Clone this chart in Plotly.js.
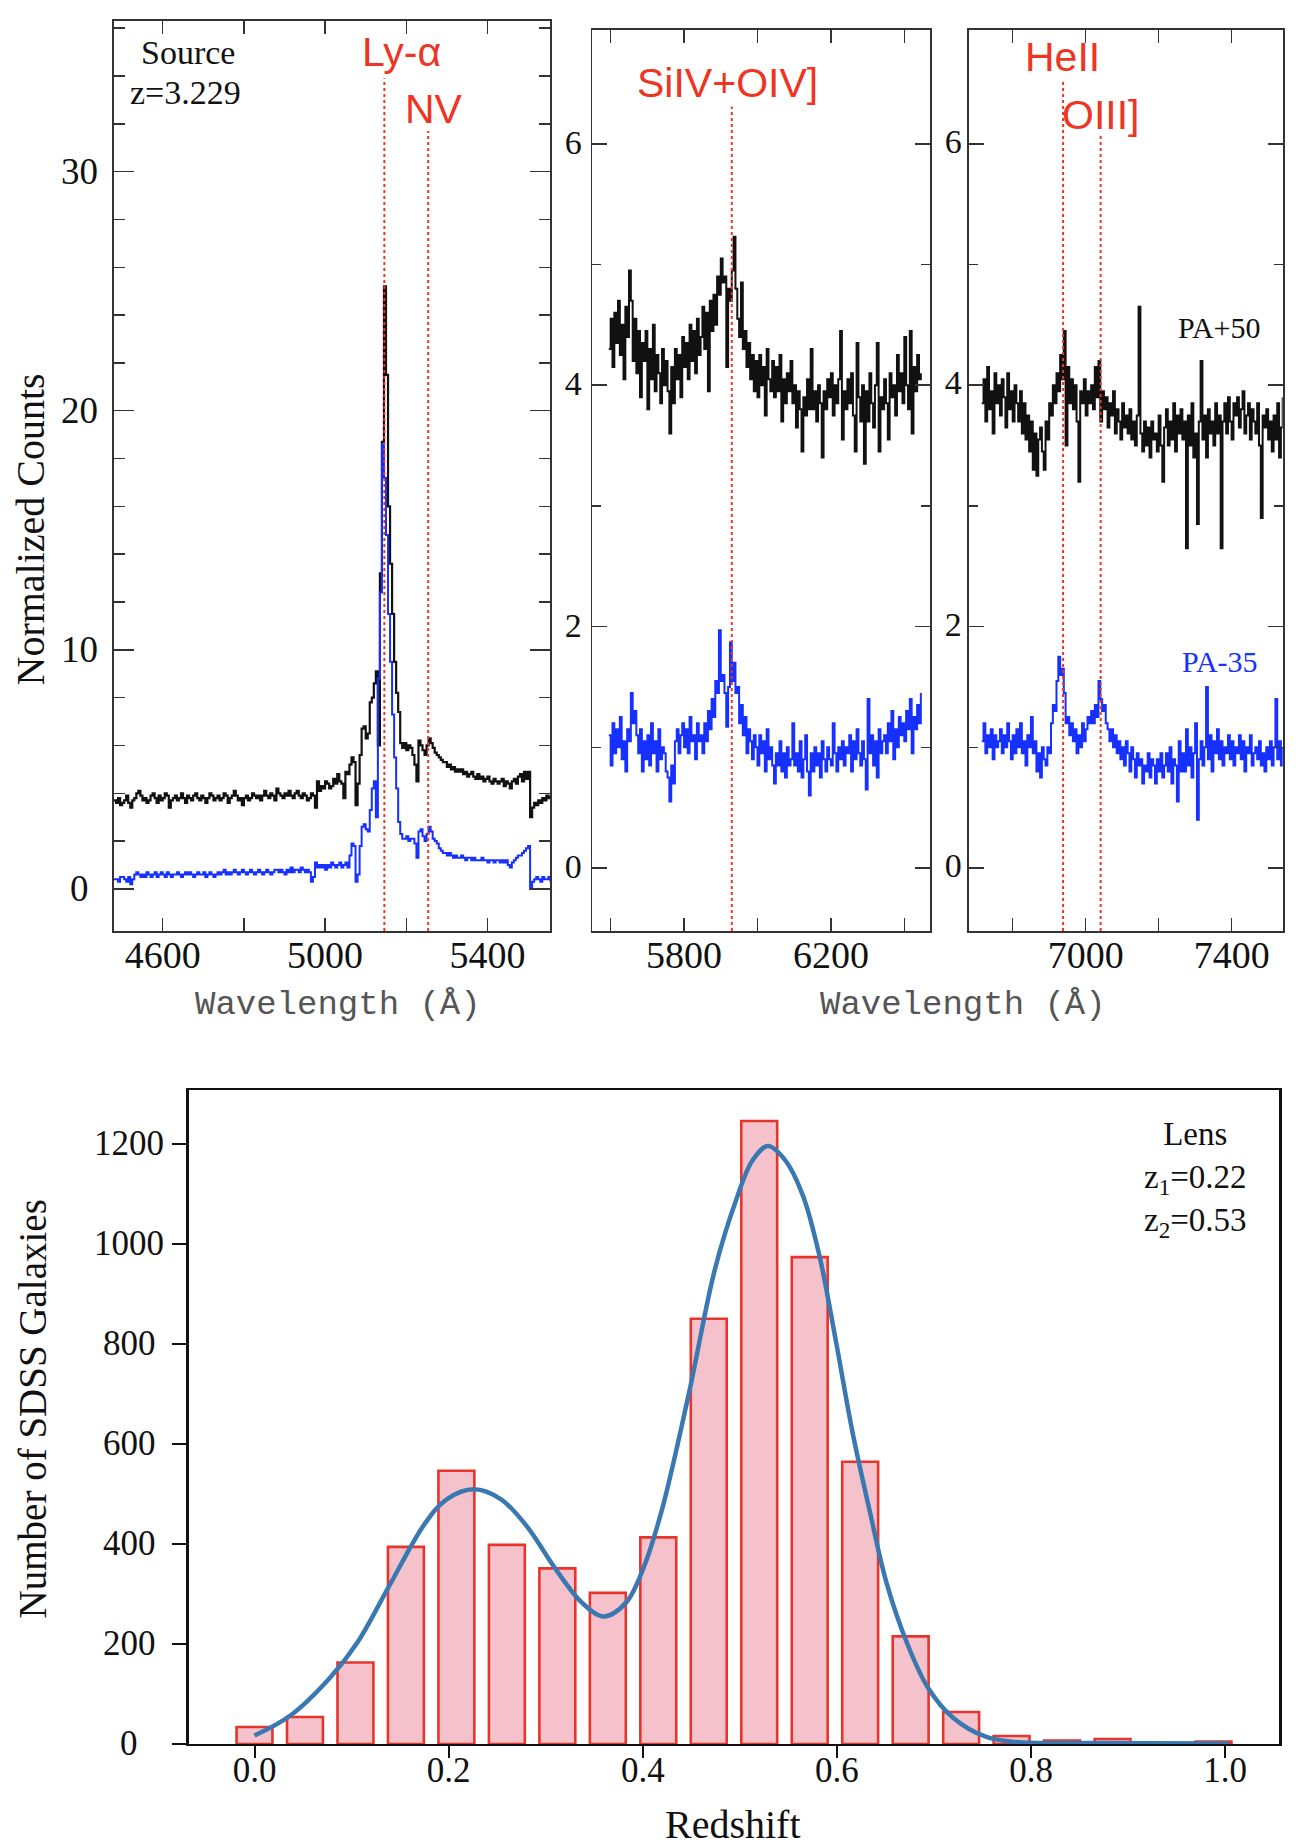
<!DOCTYPE html>
<html>
<head>
<meta charset="utf-8">
<script src="https://cdn.plot.ly/plotly-3.0.1.min.js"></script>
<style>
html,body{margin:0;padding:0;background:#fff;}
#chart{width:1316px;height:1848px;}
</style>
</head>
<body>
<div id="chart"></div>
<script>
// ---------- Panel 1: Ly-alpha / NV region (sampling start, step in Angstrom) ----------
const lyaStart = 4480, lyaStep = 5;
const lyaPA50 = [
3.7,3.6,3.8,3.5,3.6,3.7,3.9,3.6,3.4,3.7,
3.8,4.0,4.1,3.9,3.7,3.8,3.6,3.7,3.9,4.0,
3.8,3.6,3.9,3.7,3.8,4.0,3.9,3.4,3.7,3.8,
3.9,3.7,3.8,4.0,3.8,3.6,3.9,3.8,3.7,3.9,
4.0,3.8,3.7,3.9,3.8,3.6,3.8,4.0,3.9,3.7,
3.8,3.9,3.7,3.8,4.0,3.9,3.6,3.8,3.9,4.1,
3.9,3.7,3.8,3.5,3.8,3.9,3.7,3.8,4.0,3.9,
3.8,3.9,3.7,3.9,4.1,3.9,3.8,4.0,3.9,3.7,
4.2,4.0,3.9,3.8,4.0,3.9,4.1,3.9,3.8,4.0,
4.1,3.9,3.8,4.0,3.9,3.7,3.8,4.0,3.9,3.4,
4.5,4.1,4.3,4.2,4.5,4.4,4.2,4.3,4.6,4.4,
4.8,4.5,4.4,3.8,4.9,4.8,5.2,5.5,5.3,3.5,
4.4,5.6,6.7,6.8,6.3,6.5,7.8,8.0,8.6,9.1,
6.0,13.2,18.7,25.2,21.5,16.0,13.6,11.5,9.5,8.2,
7.4,6.1,5.9,6.1,5.8,6.0,5.9,5.6,5.2,4.5,
6.2,6.0,5.8,5.6,6.0,6.3,6.1,5.9,5.7,5.6,
5.5,5.4,5.3,5.3,5.1,5.2,5.0,5.1,4.9,5.0,
4.9,5.0,4.8,4.9,4.7,4.8,4.9,4.7,4.6,4.8,
4.6,4.7,4.5,4.6,4.7,4.5,4.4,4.6,4.5,4.4,
4.5,4.6,4.3,4.5,4.4,4.2,4.5,4.6,4.4,4.7,
4.8,4.5,4.9,4.6,4.9,3.0,3.4,3.6,3.5,3.7,
3.6,3.8,3.7,3.9,3.8,3.9
];
const lyaPA35 = [
0.4,0.4,0.3,0.5,0.5,0.4,0.3,0.5,0.2,0.4,
0.6,0.7,0.6,0.5,0.6,0.5,0.7,0.6,0.5,0.6,
0.7,0.5,0.6,0.7,0.6,0.5,0.7,0.6,0.5,0.6,
0.6,0.7,0.6,0.5,0.6,0.7,0.6,0.7,0.6,0.5,
0.6,0.7,0.6,0.6,0.7,0.5,0.6,0.7,0.6,0.5,
0.6,0.7,0.6,0.7,0.8,0.6,0.7,0.6,0.7,0.8,
0.7,0.6,0.7,0.8,0.7,0.6,0.7,0.8,0.7,0.6,
0.7,0.8,0.7,0.6,0.7,0.8,0.7,0.6,0.7,0.8,
0.8,0.7,0.8,0.7,0.6,0.8,0.7,0.9,0.7,0.8,
0.8,0.7,0.9,0.8,0.7,0.8,0.7,0.3,0.5,1.1,
0.9,1.0,0.9,1.0,0.8,1.0,0.9,1.1,1.0,0.9,
1.0,1.1,0.9,1.0,1.1,0.9,1.4,1.9,1.8,0.3,
0.6,1.8,2.6,2.7,2.5,2.4,3.3,4.2,4.5,3.0,
8.8,12.4,18.6,17.2,14.8,11.5,9.5,7.3,5.5,4.2,
2.8,2.3,2.1,2.1,2.2,2.0,2.1,2.1,1.9,1.3,
2.4,2.5,2.2,2.0,2.3,2.6,2.4,2.1,2.0,1.9,
1.7,1.6,1.5,1.5,1.4,1.5,1.4,1.3,1.4,1.3,
1.3,1.4,1.3,1.2,1.3,1.3,1.2,1.3,1.2,1.2,
1.2,1.3,1.2,1.2,1.1,1.2,1.2,1.1,1.2,1.2,
1.1,1.2,1.1,1.2,1.0,0.9,1.1,1.2,1.3,1.4,
1.4,1.5,1.6,1.7,1.8,0.0,0.3,0.4,0.5,0.4,
0.3,0.5,0.4,0.4,0.5,0.3
];

// ---------- Panel 2: SiIV+OIV] region ----------
const siStart = 5595, siStep = 5;
const siPA50 = [
4.30,4.55,4.15,4.60,4.35,4.70,4.25,4.50,4.05,4.65,
4.40,4.95,4.70,4.20,4.55,4.10,4.45,3.90,4.35,4.20,
4.45,3.80,4.30,4.05,4.50,3.95,4.25,4.10,3.85,4.30,
4.00,4.20,3.95,3.60,4.15,3.85,4.30,4.05,4.25,3.90,
4.40,4.15,4.35,4.05,4.50,4.20,4.45,4.10,4.55,4.25,
4.40,4.65,4.30,4.60,3.95,4.70,4.45,4.75,4.50,4.90,
4.75,5.05,4.85,4.90,4.15,4.80,4.70,4.95,5.23,4.80,
4.55,4.40,4.85,4.30,4.45,4.15,4.35,4.05,4.25,3.95,
4.20,3.90,4.25,4.00,4.15,3.75,4.30,4.05,3.95,4.20,
3.90,4.15,3.95,4.25,3.70,4.05,3.85,4.10,3.95,4.20,
3.85,4.00,3.65,3.95,3.80,3.45,3.90,3.75,4.05,3.80,
4.30,3.80,3.95,3.70,4.00,3.85,3.40,3.95,3.80,4.05,
3.90,4.10,3.75,4.00,3.85,4.05,4.45,3.55,3.95,3.80,
4.05,3.85,4.10,3.75,3.45,4.35,3.90,3.70,4.00,3.35,
3.95,3.70,4.10,3.85,3.65,4.00,4.35,3.45,3.90,3.80,
4.05,3.85,3.55,4.10,3.90,4.00,3.75,4.25,3.95,4.10,
3.85,4.40,4.00,3.80,4.45,3.60,4.15,3.95,4.25,4.05,
4.10
];
const siPA35 = [
1.10,0.85,1.20,0.95,1.15,1.00,1.25,0.90,1.05,0.80,
1.15,1.05,1.45,1.20,1.30,1.10,0.95,1.15,0.80,1.05,
0.90,1.10,0.85,1.20,0.95,1.05,0.80,1.15,0.90,1.00,
0.95,0.80,0.75,0.55,0.85,0.70,1.05,1.15,0.95,1.10,
1.20,1.00,1.15,0.95,1.25,1.05,1.10,0.90,1.20,1.05,
1.10,0.95,1.20,1.05,1.30,1.15,1.40,1.25,1.55,1.45,
1.97,1.55,1.60,1.45,1.17,1.50,1.87,1.55,1.70,1.45,
1.50,1.20,1.35,1.10,1.25,0.95,1.15,1.05,0.90,1.10,
1.00,0.85,1.10,0.95,1.05,0.80,1.15,0.90,1.00,0.85,
0.70,0.95,0.85,1.05,0.80,0.95,0.75,1.00,0.85,0.90,
1.20,0.85,0.95,0.80,1.05,0.75,0.90,1.10,0.80,0.60,
0.95,0.80,1.00,0.85,0.95,0.75,1.05,0.90,0.80,1.00,
0.90,0.85,1.20,0.95,0.80,1.00,0.90,1.05,0.85,1.00,
0.95,1.10,0.80,1.05,0.90,1.15,0.95,0.85,1.05,0.90,
0.65,1.40,0.95,1.10,0.85,1.05,0.75,1.15,0.95,1.05,
1.10,0.95,1.20,1.05,1.30,0.90,1.15,1.00,1.25,1.10,
1.20,1.05,1.30,1.15,1.40,0.95,1.25,1.15,1.35,1.20,
1.45
];

// ---------- Panel 3: HeII / OIII] region ----------
const heStart = 6715, heStep = 5;
const hePA50 = [
3.85,4.05,3.70,4.15,3.80,3.95,3.60,4.10,3.85,4.00,
3.75,4.05,3.90,3.65,4.10,3.80,3.95,3.70,4.00,3.85,
3.70,3.95,3.60,3.85,3.55,3.75,3.45,3.70,3.30,3.60,
3.25,3.55,3.65,3.45,3.30,3.70,3.55,3.85,3.75,4.00,
3.85,4.10,3.95,4.25,4.05,4.45,3.50,4.15,3.85,4.05,
3.80,4.00,3.70,3.20,3.95,3.85,4.05,3.75,3.95,3.85,
4.00,3.80,4.15,3.90,4.20,3.70,3.95,3.80,3.90,3.65,
3.85,3.75,3.95,3.60,3.80,3.70,3.55,3.85,3.65,3.75,
3.60,3.80,3.55,3.70,3.50,3.75,4.65,3.60,3.45,3.70,
3.50,3.65,3.40,3.70,3.55,3.60,3.45,3.75,3.50,3.20,
3.65,3.80,3.50,3.70,3.55,3.85,3.45,3.75,3.60,3.80,
3.55,3.70,2.65,3.75,3.50,3.85,3.40,3.60,2.85,3.70,
4.20,3.55,3.75,3.40,3.80,3.60,3.70,3.50,3.85,3.60,
3.75,2.65,3.70,3.85,3.60,3.90,3.70,3.55,3.85,3.75,
3.90,3.65,3.80,3.95,3.60,3.75,3.85,3.55,3.80,3.70,
3.60,3.85,3.50,2.90,3.75,3.65,3.80,3.55,3.70,3.45,
3.75,3.55,3.85,3.40,3.65,3.90
];
const hePA35 = [
1.05,1.20,0.95,1.10,1.00,1.15,0.90,1.10,1.00,1.05,
1.15,0.95,1.10,1.00,1.20,1.05,0.90,1.10,0.95,1.15,
1.00,1.20,0.95,1.05,0.85,1.10,1.00,1.25,0.95,1.05,
0.80,0.95,0.75,1.00,0.90,0.85,1.00,0.95,1.20,1.35,
1.30,1.55,1.75,1.60,1.65,1.45,1.20,1.25,1.10,1.20,
1.05,1.15,0.95,1.10,1.00,1.20,1.05,1.15,1.25,1.20,
1.30,1.20,1.35,1.25,1.55,1.40,1.30,1.35,1.20,1.15,
1.05,1.15,1.00,1.10,0.95,1.05,0.90,1.00,0.85,1.05,
0.95,0.80,1.00,0.90,0.75,0.95,0.85,0.90,0.70,0.85,
0.80,0.95,0.75,0.90,0.85,0.70,0.90,0.80,0.95,0.75,
0.85,0.95,0.80,1.00,0.70,0.90,0.85,0.55,1.05,0.80,
0.95,0.80,1.15,0.85,1.00,0.75,0.95,1.20,0.40,0.90,
1.05,0.85,1.00,1.50,0.90,1.10,0.80,1.05,0.95,1.15,
0.90,1.05,0.85,1.00,0.95,1.10,0.90,1.05,0.85,1.00,
0.95,1.10,0.90,1.05,0.80,1.00,0.95,1.10,0.85,0.95,
1.00,0.90,1.05,0.85,0.95,0.80,1.00,0.90,1.05,0.85,
1.00,1.40,0.90,1.05,0.85,1.00
];

// ---------- Emission lines ----------
const lineNames = ['Ly-α', 'NV', 'SiIV+OIV]', 'HeII', 'OIII]'];
const lineWaves = [5146, 5254, 5930, 6938, 7041];
const lineTops  = [33.9, 31.7, 6.31, 6.53, 6.09];

// ---------- Lens redshift histogram ----------
const zBins   = [0.000,0.052,0.104,0.156,0.208,0.260,0.312,0.364,0.416,0.468,0.520,0.572,0.624,0.676,0.728,0.780,0.832,0.884,0.936,0.988];
const zCounts = [34,54,163,394,546,398,351,302,413,850,1245,973,564,215,64,16,7,10,0,5];
const kdeZ = [0.000,0.037,0.078,0.106,0.138,0.175,0.198,0.226,0.254,0.281,0.309,0.337,0.360,0.383,0.401,0.420,0.448,0.474,0.496,0.513,0.529,0.547,0.565,0.582,0.599,0.616,0.634,0.651,0.672,0.694,0.720,0.754,0.784,0.849,1.004];
const kdeN = [17,57,133,203,313,439,489,509,489,434,353,283,255,283,353,470,705,946,1086,1166,1195,1166,1096,976,805,624,464,323,203,112,52,14,4,2,1];

// ---------- tick label values (labels are centred, as in the figure) ----------
const countTicks = [0, 200, 400, 600, 800, 1000, 1200];
const normTicks  = [0, 10, 20, 30];

// ---------- build ----------
function waveGrid(start, step, n){ const w=[]; for(let i=0;i<n;i++) w.push(start+i*step); return w; }
const lyaW = waveGrid(lyaStart, lyaStep, lyaPA50.length);
const siW  = waveGrid(siStart, siStep, siPA50.length);
const heW  = waveGrid(heStart, heStep, hePA50.length);

const BLACK = '#111111', BLUE = '#1530ff', RED = '#ee3524';
const SERIF = 'Liberation Serif, Times New Roman, serif';
const SANS = 'Liberation Sans, Arial, sans-serif';
const MONO = 'Liberation Mono, Courier New, monospace';

function spec(x, y, xa, ya, color, w){
  return {type:'scatter', mode:'lines', x:x, y:y, xaxis:xa, yaxis:ya,
          line:{color:color, width:w, shape:'hv'}, hoverinfo:'skip', showlegend:false};
}
const traces = [
  spec(lyaW, lyaPA50, 'x', 'y', BLACK, 2.2),
  spec(lyaW, lyaPA35, 'x', 'y', BLUE, 2.0),
  spec(siW, siPA50, 'x2', 'y2', BLACK, 2.0),
  spec(siW, siPA35, 'x2', 'y2', BLUE, 2.0),
  spec(heW, hePA50, 'x3', 'y3', BLACK, 2.0),
  spec(heW, hePA35, 'x3', 'y3', BLUE, 2.0),
  {type:'bar', x:zBins, y:zCounts, xaxis:'x4', yaxis:'y4', width:0.037,
   marker:{color:'#f5c2cc', line:{color:'#e8352b', width:2.6}}, showlegend:false, hoverinfo:'skip'},
  {type:'scatter', mode:'lines', x:kdeZ, y:kdeN, xaxis:'x4', yaxis:'y4',
   line:{color:'#3a78b2', width:4.5, shape:'spline', smoothing:1.0}, showlegend:false, hoverinfo:'skip'}
];

function specX(dom, range, tick0, anchor){
  return {domain:dom, range:range, anchor:anchor, tick0:tick0, dtick:400,
    ticks:'inside', ticklen:13, tickwidth:1.5, tickcolor:'#333',
    minor:{dtick:200, ticks:'inside', ticklen:13, tickwidth:1.5, tickcolor:'#333'},
    mirror:'allticks', showline:true, linecolor:'#333', linewidth:1.8,
    showgrid:false, zeroline:false, ticklabelstandoff:-10,
    tickfont:{family:SERIF, size:38, color:BLACK}};
}
function specY(dom, range, dtick, mdtick, anchor, fs, len, mlen, so, shift, showLab){
  return {domain:dom, range:range, anchor:anchor, tick0:0, dtick:dtick,
    ticks:'inside', ticklen:len, tickwidth:1.5, tickcolor:'#333',
    minor:{dtick:mdtick, ticks:'inside', ticklen:mlen, tickwidth:1.5, tickcolor:'#333'},
    mirror:'allticks', showline:true, linecolor:'#333', linewidth:1.8,
    showgrid:false, zeroline:false, ticklabelstandoff:so, ticklabelshift:shift,
    showticklabels:showLab, tickfont:{family:SERIF, size:fs, color:BLACK}};
}

const topDom = [0.49621, 0.98864];
const midDom = [0.49621, 0.98377];
function pann(xpx, ypx, text, font, extra){
  return Object.assign({xref:'paper', yref:'paper', x:xpx/1316, y:1-ypx/1848, text:text,
    xanchor:'center', yanchor:'middle', showarrow:false, font:font}, extra||{});
}
function dann(xr, yr, x, y, text, font){
  return {xref:xr, yref:yr, x:x, y:y, text:text, xanchor:'center', yanchor:'middle', showarrow:false, font:font};
}
const redFont = {family:SANS, size:41, color:RED};

const annotations = [
  dann('x','y',5187,35.0,lineNames[0],redFont),
  dann('x','y',5268,32.6,lineNames[1],redFont),
  dann('x2','y2',5918,6.50,lineNames[2],redFont),
  dann('x3','y3',6936,6.72,lineNames[3],redFont),
  dann('x3','y3',7040,6.24,lineNames[4],redFont),
  dann('x','y',4662,35.0,'Source',{family:SERIF, size:34, color:BLACK}),
  dann('x','y',4657,33.3,'z=3.229',{family:SERIF, size:34, color:BLACK}),
  dann('x3','y3',7368,4.48,'PA+50',{family:SERIF, size:30, color:BLACK}),
  dann('x3','y3',7368,1.715,'PA-35',{family:SERIF, size:30, color:BLUE}),
  pann(338, 1005, 'Wavelength (Å)', {family:MONO, size:34, color:'#555'}),
  pann(963, 1005, 'Wavelength (Å)', {family:MONO, size:34, color:'#555'}),
  pann(29.5, 530, 'Normalized Counts', {family:SERIF, size:40, color:BLACK}, {textangle:-90}),
  pann(32.4, 1409, 'Number of SDSS Galaxies', {family:SERIF, size:39, color:BLACK}, {textangle:-90}),
  pann(733, 1824, 'Redshift', {family:SERIF, size:40, color:BLACK}),
  pann(1195, 1179.5, 'Lens<br>z<sub>1</sub>=0.22<br>z<sub>2</sub>=0.53', {family:SERIF, size:33, color:BLACK}, {align:'center'})
];
normTicks.forEach(v => annotations.push({xref:'paper', yref:'y', x:79.5/1316, y:v, text:String(v),
  xanchor:'center', yanchor:'middle', showarrow:false, font:{family:SERIF, size:37, color:BLACK}}));
countTicks.forEach(v => annotations.push({xref:'paper', yref:'y4', x:129/1316, y:v, text:String(v),
  xanchor:'center', yanchor:'middle', showarrow:false, font:{family:SERIF, size:35, color:BLACK}}));

const layout = {
  width:1316, height:1848, margin:{l:0,r:0,t:0,b:0},
  paper_bgcolor:'#fff', plot_bgcolor:'rgba(0,0,0,0)',
  font:{family:SERIF, color:BLACK},
  showlegend:false,
  xaxis: specX([0.08663,0.41793],[4480,5554],4600,'y'),
  yaxis: specY(topDom,[-1.76,36.3],10,2,'x',37,20,11,6,0,false),
  xaxis2: specX([0.45008,0.70669],[5550,6470],5800,'y2'),
  yaxis2: specY(midDom,[-0.522,6.943],2,1,'x2',34,15,9,2,-2,true),
  xaxis3: specX([0.73655,0.97470],[6681,7540],7000,'y3'),
  yaxis3: specY(midDom,[-0.522,6.943],2,1,'x3',34,15,9,-1,-3,true),
  xaxis4: {domain:[0.14324,0.97226], range:[-0.068,1.056], anchor:'y4', tick0:0, dtick:0.2, tickformat:'.1f',
    ticks:'outside', ticklen:12, tickwidth:2, tickcolor:BLACK, showline:true, linecolor:BLACK, linewidth:2.5,
    mirror:true, showgrid:false, zeroline:false, ticklabelstandoff:-18, tickfont:{family:SERIF, size:35, color:BLACK}},
  yaxis4: {domain:[0.05628,0.41017], range:[0,1307], anchor:'x4', tick0:0, dtick:200,
    ticks:'outside', ticklen:14, tickwidth:2, tickcolor:BLACK, showline:true, linecolor:BLACK, linewidth:2.5,
    mirror:true, showgrid:false, zeroline:false, showticklabels:false},
  bargap:0,
  shapes: [
    {type:'line', xref:'x',  yref:'y',  x0:lineWaves[0], x1:lineWaves[0], y0:-1.76,  y1:lineTops[0], line:{color:RED, width:2, dash:'dot'}},
    {type:'line', xref:'x',  yref:'y',  x0:lineWaves[1], x1:lineWaves[1], y0:-1.76,  y1:lineTops[1], line:{color:RED, width:2, dash:'dot'}},
    {type:'line', xref:'x2', yref:'y2', x0:lineWaves[2], x1:lineWaves[2], y0:-0.522, y1:lineTops[2], line:{color:RED, width:2, dash:'dot'}},
    {type:'line', xref:'x3', yref:'y3', x0:lineWaves[3], x1:lineWaves[3], y0:-0.522, y1:lineTops[3], line:{color:RED, width:2, dash:'dot'}},
    {type:'line', xref:'x3', yref:'y3', x0:lineWaves[4], x1:lineWaves[4], y0:-0.522, y1:lineTops[4], line:{color:RED, width:2, dash:'dot'}}
  ],
  annotations: annotations
};

Plotly.newPlot('chart', traces, layout, {staticPlot:true, displayModeBar:false});
</script>
</body>
</html>
